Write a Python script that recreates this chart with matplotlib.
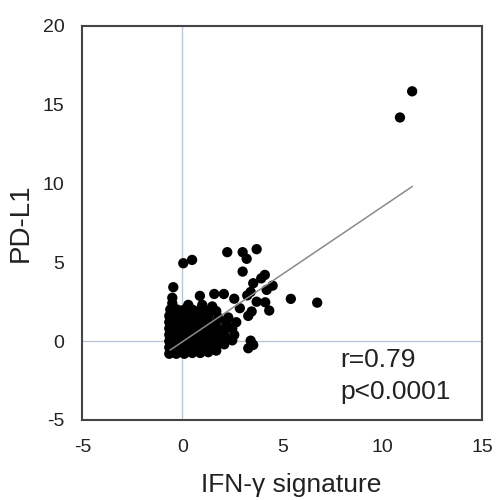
import matplotlib
matplotlib.use("Agg")
import matplotlib.pyplot as plt
from matplotlib.ticker import FuncFormatter

plt.rcParams['font.family'] = ['Liberation Sans', 'DejaVu Sans']

# dense cluster
cluster_x = [
    -0.65, -0.3, 0.1, 0.5, 0.9, 1.3, 1.7,
    -0.65, -0.3, 0.1, 0.5, 0.9, 1.3, 1.7, 2.1,
    -0.65, -0.3, 0.1, 0.5, 0.9, 1.3, 1.7, 2.1, 2.5,
    -0.65, -0.3, 0.1, 0.5, 0.9, 1.3, 1.7, 2.1, 2.6,
    -0.65, -0.3, 0.1, 0.5, 0.9, 1.3, 1.7, 2.1, 2.5,
    -0.65, -0.3, 0.1, 0.5, 0.9, 1.3, 1.7, 2.2, 2.7,
    -0.65, -0.3, 0.1, 0.5, 0.9, 1.3, 1.8, 2.3,
    -0.6, -0.25, 0.1, 0.5, 0.9, 1.3, 1.7,
    -0.5, 0.3, 1.0, 1.5,
]
cluster_y = [
    -0.8, -0.8, -0.8, -0.75, -0.75, -0.7, -0.6,
    -0.4, -0.4, -0.4, -0.4, -0.4, -0.35, -0.3, -0.2,
    0.0, 0.0, 0.0, 0.0, 0.0, 0.0, 0.0, 0.0, 0.05,
    0.4, 0.4, 0.4, 0.4, 0.4, 0.4, 0.4, 0.4, 0.4,
    0.8, 0.8, 0.8, 0.8, 0.8, 0.8, 0.8, 0.8, 0.8,
    1.2, 1.2, 1.2, 1.2, 1.2, 1.2, 1.2, 1.2, 1.2,
    1.6, 1.6, 1.6, 1.6, 1.6, 1.6, 1.5, 1.5,
    2.0, 2.0, 2.0, 2.0, 2.0, 1.9, 1.9,
    2.4, 2.3, 2.3, 2.2,
]

# scattered points outside the cluster
outlier_x = [11.5, 10.89, 6.75, 5.43, 2.25, 3.02, 3.72, 3.22, 3.02, 0.49, 0.05,
             -0.45, -0.5, 4.13, 3.95, 4.52, 4.22, 3.55, 3.42, 3.25, 3.72, 4.15,
             4.35, 3.47, 3.3, 2.88, 2.6, 2.08, 1.6, 0.88, 3.42, 3.55, 3.3]
outlier_y = [15.84, 14.18, 2.44, 2.68, 5.64, 5.64, 5.83, 5.22, 4.41, 5.15, 4.94,
             3.42, 2.75, 4.2, 3.98, 3.52, 3.25, 3.67, 3.12, 2.9, 2.5, 2.46,
             1.94, 1.88, 1.6, 2.09, 2.69, 2.99, 2.99, 2.87, 0.03, -0.24, -0.45]

# regression line end points
trend_x = [-0.6, 11.5]
trend_y = [-0.56, 9.8]

x_ticks = [-5, 0, 5, 10, 15]
y_ticks = [-5, 0, 5, 10, 15, 20]

fig = plt.figure(figsize=(4.96, 5.0), dpi=100)
ax = fig.add_axes([0.166, 0.16, 0.806, 0.7886])

ax.axvline(0, color='#b8c6d8', lw=1.0, zorder=1)
ax.axhline(0, color='#b8c6d8', lw=1.0, zorder=1)

ax.scatter(cluster_x + outlier_x, cluster_y + outlier_y, s=55, color='black',
           edgecolors='none', zorder=2)
ax.plot(trend_x, trend_y, color='#8a8a8a', lw=1.1, zorder=3)

fmt = FuncFormatter(lambda v, p: '%d' % v)
ax.set_xlim(-5, 15)
ax.set_ylim(-5, 20)
ax.set_xticks(x_ticks)
ax.set_yticks(y_ticks)
ax.xaxis.set_major_formatter(fmt)
ax.yaxis.set_major_formatter(fmt)
ax.tick_params(length=0, labelsize=14, colors='#222222')
ax.tick_params(axis='x', pad=14)
ax.tick_params(axis='y', pad=13)
for s in ax.spines.values():
    s.set_color('#444444')
    s.set_linewidth(1.5)

fig.text(21 / 496, 1 - 223 / 500, 'PD-L1', fontsize=20, color='#222222',
         rotation=90, ha='center', va='center')
fig.text(291 / 496, 0.016, 'IFN-γ signature', fontsize=19, color='#222222',
         ha='center', va='baseline')

ax.text(7.9, -1.64, 'r=0.79', fontsize=19, color='#222222', ha='left', va='baseline')
ax.text(7.9, -3.65, 'p<0.0001', fontsize=19, color='#222222', ha='left', va='baseline')

fig.savefig('out.png', dpi=100)
